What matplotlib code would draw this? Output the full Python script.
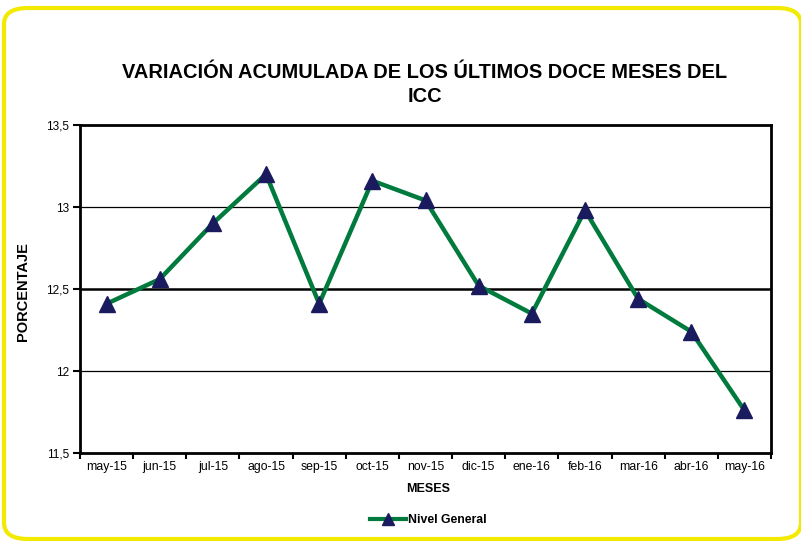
import matplotlib.pyplot as plt
from matplotlib.patches import FancyBboxPatch
from matplotlib.lines import Line2D

plt.rcParams['font.family'] = ['Liberation Sans', 'DejaVu Sans']

# data
meses = ['may-15', 'jun-15', 'jul-15', 'ago-15', 'sep-15', 'oct-15', 'nov-15',
         'dic-15', 'ene-16', 'feb-16', 'mar-16', 'abr-16', 'may-16']
nivel_general = [12.41, 12.56, 12.90, 13.20, 12.41, 13.16, 13.04,
                 12.52, 12.35, 12.98, 12.44, 12.24, 11.76]
y_ticks = [11.5, 12, 12.5, 13, 13.5]
y_labels = ['11,5', '12', '12,5', '13', '13,5']

fig = plt.figure(figsize=(8.01, 5.41), dpi=100)

# yellow rounded frame
frame = FancyBboxPatch((4/801, 2/541), 797/801, 531/541,
                       boxstyle='round,pad=0,rounding_size=0.03',
                       transform=fig.transFigure, facecolor='white',
                       edgecolor='#f2ea00', linewidth=3, zorder=-10)
fig.patches.append(frame)

ax = fig.add_axes([80/801, 1 - 453/541, 691/801, 328/541], zorder=5)
ax.set_facecolor('white')

x = list(range(len(meses)))
ax.plot(x, nivel_general, color='#007a3d', linewidth=3.2, marker='^',
        markersize=11, markerfacecolor='#1a1a5e', markeredgecolor='#1a1a5e',
        zorder=3, clip_on=False)

ax.set_xlim(-0.5, len(meses) - 0.5)
ax.set_ylim(11.5, 13.5)

# gridlines
for v in [12, 13]:
    ax.axhline(v, color='black', linewidth=0.9, zorder=1)
ax.axhline(12.5, color='black', linewidth=1.8, zorder=1)

# category ticks between labels
ax.set_xticks([i - 0.5 for i in range(len(meses) + 1)])
ax.set_xticklabels([])
ax.set_xticks(x, minor=True)
ax.set_xticklabels(meses, minor=True, fontsize=8.8)
ax.tick_params(axis='x', which='major', direction='out', length=4, width=1.5)
ax.tick_params(axis='x', which='minor', length=0, pad=6)

ax.set_yticks(y_ticks)
ax.set_yticklabels(y_labels, fontsize=8.5)
ax.tick_params(axis='y', direction='out', length=5, width=1.5, pad=3)

for s in ax.spines.values():
    s.set_linewidth(2)

fig.text(428/801, 1 - 489/541, 'MESES', ha='center', va='center',
         fontsize=9, fontweight='bold')
fig.text(23/801, 1 - 292/541, 'PORCENTAJE', ha='center', va='center',
         rotation=90, fontsize=10.5, fontweight='bold')

fig.text(425/801, 1 - 72/541, 'VARIACIÓN ACUMULADA DE LOS ÚLTIMOS DOCE MESES DEL',
         ha='center', va='center', fontsize=14.4, fontweight='bold')
fig.text(425/801, 1 - 96/541, 'ICC', ha='center', va='center',
         fontsize=14.4, fontweight='bold')

handle = Line2D([], [], color='#007a3d', linewidth=3, marker='^', markersize=9,
                markerfacecolor='#1a1a5e', markeredgecolor='#1a1a5e')
fig.legend([handle], ['Nivel General'], loc='center',
           bbox_to_anchor=(428/801, 1 - 520/541), frameon=False,
           prop={'size': 8.8, 'weight': 'bold'}, handlelength=3.0,
           handletextpad=0.1)

fig.savefig('out.png', dpi=100)
